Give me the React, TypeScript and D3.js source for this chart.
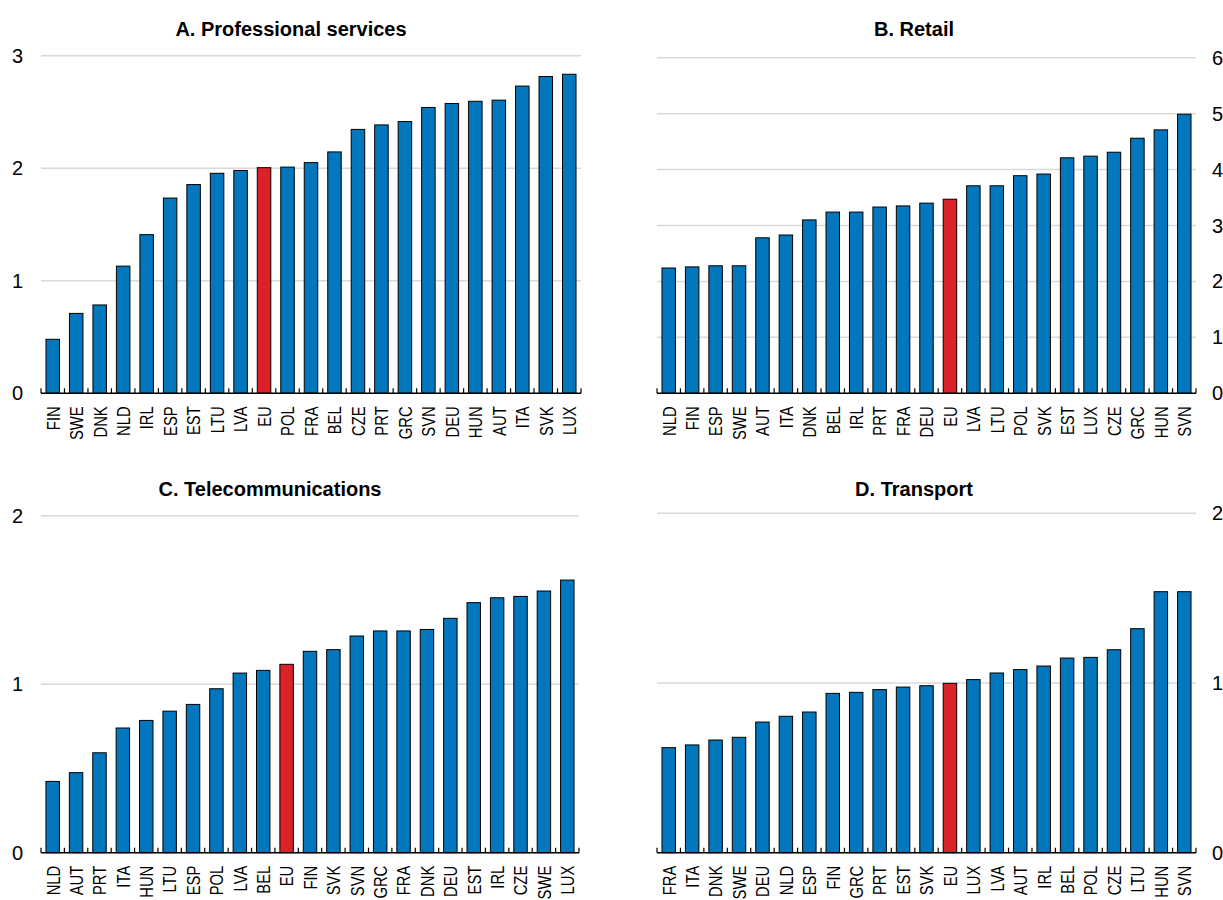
import * as d3 from 'd3';
import * as React from 'react';

// A. Professional services
const profCountries = ['FIN', 'SWE', 'DNK', 'NLD', 'IRL', 'ESP', 'EST', 'LTU', 'LVA', 'EU', 'POL', 'FRA', 'BEL', 'CZE', 'PRT', 'GRC', 'SVN', 'DEU', 'HUN', 'AUT', 'ITA', 'SVK', 'LUX'];
const profValues = [0.48, 0.71, 0.785, 1.13, 1.41, 1.735, 1.855, 1.955, 1.98, 2.005, 2.01, 2.05, 2.145, 2.345, 2.385, 2.415, 2.54, 2.575, 2.595, 2.605, 2.73, 2.815, 2.835];

// B. Retail
const retailCountries = ['NLD', 'FIN', 'ESP', 'SWE', 'AUT', 'ITA', 'DNK', 'BEL', 'IRL', 'PRT', 'FRA', 'DEU', 'EU', 'LVA', 'LTU', 'POL', 'SVK', 'EST', 'LUX', 'CZE', 'GRC', 'HUN', 'SVN'];
const retailValues = [2.24, 2.26, 2.28, 2.28, 2.78, 2.83, 3.1, 3.24, 3.24, 3.33, 3.35, 3.4, 3.47, 3.71, 3.71, 3.89, 3.92, 4.21, 4.24, 4.31, 4.56, 4.71, 4.99];

// C. Telecommunications
const telecomCountries = ['NLD', 'AUT', 'PRT', 'ITA', 'HUN', 'LTU', 'ESP', 'POL', 'LVA', 'BEL', 'EU', 'FIN', 'SVK', 'SVN', 'GRC', 'FRA', 'DNK', 'DEU', 'EST', 'IRL', 'CZE', 'SWE', 'LUX'];
const telecomValues = [0.423, 0.475, 0.593, 0.74, 0.785, 0.84, 0.88, 0.973, 1.066, 1.082, 1.118, 1.195, 1.205, 1.286, 1.316, 1.316, 1.325, 1.391, 1.484, 1.513, 1.521, 1.553, 1.618];

// D. Transport
const transportCountries = ['FRA', 'ITA', 'DNK', 'SWE', 'DEU', 'NLD', 'ESP', 'FIN', 'GRC', 'PRT', 'EST', 'SVK', 'EU', 'LUX', 'LVA', 'AUT', 'IRL', 'BEL', 'POL', 'CZE', 'LTU', 'HUN', 'SVN'];
const transportValues = [0.619, 0.635, 0.664, 0.68, 0.77, 0.804, 0.829, 0.939, 0.945, 0.961, 0.976, 0.984, 0.998, 1.02, 1.059, 1.079, 1.1, 1.147, 1.151, 1.196, 1.32, 1.538, 1.538];

const profTicks = [0, 1, 2, 3];
const retailTicks = [0, 1, 2, 3, 4, 5, 6];
const telecomTicks = [0, 1, 2];
const transportTicks = [0, 1, 2];

const BLUE = '#0277bd';
const RED = '#dc2229';
const GRID = '#d9d9d9';
const FONT = '"Liberation Sans", Arial, sans-serif';

interface PanelProps {
    title: string;
    titleX: number;
    titleY: number;
    categories: string[];
    values: number[];
    ticks: number[];
    left: number;
    right: number;
    top: number;
    bottom: number;
    axisSide: 'left' | 'right';
}

function Panel(props: PanelProps) {
    const { categories, values, ticks, left, right, top, bottom } = props;
    const yMax = ticks[ticks.length - 1];

    const x = d3.scaleBand<string>()
        .domain(categories)
        .range([left, right])
        .padding(0);
    const y = d3.scaleLinear()
        .domain([0, yMax])
        .range([bottom, top]);

    const bw = x.bandwidth();
    const barW = bw * 0.575;
    const labelX = props.axisSide === 'left' ? left - 18 : right + 16;

    return (
        <g>
            <text
                x={props.titleX}
                y={props.titleY}
                textAnchor="middle"
                fontFamily={FONT}
                fontWeight="bold"
                fontSize={20}
                fill="#000"
            >
                {props.title}
            </text>

            {ticks.filter(t => t > 0).map(t => (
                <line key={'g' + t} x1={left} x2={right} y1={y(t)} y2={y(t)} stroke={GRID} strokeWidth={1.5} />
            ))}

            {ticks.map(t => (
                <text
                    key={'t' + t}
                    x={labelX}
                    y={y(t)}
                    dy="0.35em"
                    textAnchor={props.axisSide === 'left' ? 'end' : 'start'}
                    fontFamily={FONT}
                    fontSize={20}
                    fill="#000"
                >
                    {t}
                </text>
            ))}

            {categories.map((c, i) => (
                <rect
                    key={'b' + c}
                    x={x(c) + (bw - barW) / 2}
                    y={y(values[i])}
                    width={barW}
                    height={y(0) - y(values[i])}
                    fill={c === 'EU' ? RED : BLUE}
                    stroke="#000"
                    strokeWidth={1}
                />
            ))}

            <line x1={left} x2={right} y1={y(0)} y2={y(0)} stroke="#000" strokeWidth={1.5} />
            {d3.range(categories.length + 1).map(i => {
                const tx = left + i * bw;
                return <line key={'k' + i} x1={tx} x2={tx} y1={y(0)} y2={y(0) - 5} stroke="#000" strokeWidth={1.2} />;
            })}

            {categories.map(c => {
                const cx = x(c) + bw / 2;
                const ty = y(0) + 13;
                // condensed look, like a narrow face
                return (
                    <text
                        key={'l' + c}
                        transform={`translate(${cx},${ty}) rotate(-90) scale(0.78,1)`}
                        dy="0.36em"
                        textAnchor="end"
                        fontFamily={FONT}
                        fontSize={19}
                        fill="#000"
                    >
                        {c}
                    </text>
                );
            })}
        </g>
    );
}

export default function App() {
    return (
        <div style={{ position: 'absolute', left: 0, top: 0, width: 1223, height: 900, background: '#fff' }}>
            <svg width={1223} height={900} style={{ display: 'block', overflow: 'hidden' }}>
                <rect x={0} y={0} width={1223} height={900} fill="#fff" />
                <Panel
                    title="A. Professional services" titleX={291} titleY={36}
                    categories={profCountries} values={profValues} ticks={profTicks}
                    left={41} right={581} top={55.7} bottom={393.3} axisSide="left"
                />
                <Panel
                    title="B. Retail" titleX={914} titleY={36}
                    categories={retailCountries} values={retailValues} ticks={retailTicks}
                    left={657} right={1196} top={57.7} bottom={393.3} axisSide="right"
                />
                <Panel
                    title="C. Telecommunications" titleX={270} titleY={496}
                    categories={telecomCountries} values={telecomValues} ticks={telecomTicks}
                    left={41} right={579} top={515.7} bottom={852.7} axisSide="left"
                />
                <Panel
                    title="D. Transport" titleX={914} titleY={496}
                    categories={transportCountries} values={transportValues} ticks={transportTicks}
                    left={657} right={1196} top={513.3} bottom={852.7} axisSide="right"
                />
            </svg>
        </div>
    );
}
